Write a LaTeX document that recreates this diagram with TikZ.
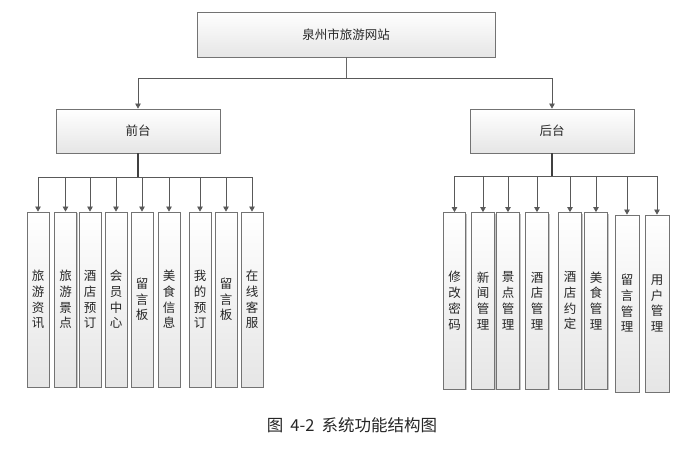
\documentclass[tikz,border=0pt]{standalone}
\usepackage{fontspec}
\newfontfamily\cjk{Noto Sans CJK SC}
\usetikzlibrary{shadows,arrows.meta}
\begin{document}
\begin{tikzpicture}[x=1pt,y=-1pt,
  box/.style={draw=black!55, line width=0.8pt, top color=white, bottom color=black!10,
    drop shadow={shadow xshift=1.3pt,shadow yshift=-1.3pt,fill=black!45,opacity=0.5},
    text=black!85, inner sep=0pt},
  bigbox/.style={box, font=\cjk\fontsize{12.5}{14}\selectfont},
  colbox/.style={box, font=\cjk\fontsize{12.5}{15.7}\selectfont, align=center},
  link/.style={draw=black!60, line width=0.8pt},
  stub/.style={draw=black!75, line width=1.6pt},
  arr/.style={link, -{Triangle[length=5pt,width=5.5pt]}, color=black!65}
]
\fill[white] (0,0) rectangle (697,462);
\useasboundingbox (0,0) rectangle (697,462);

% top level
\node[bigbox, minimum width=298pt, minimum height=45pt] (top) at (346,34.5) {泉州市旅游网站};
\node[bigbox, minimum width=164pt, minimum height=44pt] (front) at (138,131) {前台};
\node[bigbox, minimum width=164pt, minimum height=44pt] (back) at (552,131) {后台};

\coordinate (tb) at (346,78);
\draw[link] (top.south) -- (tb);
\draw[arr] (tb) -| (front.north);
\draw[arr] (tb) -| (back.north);

% front children
\foreach \n/\x/\t in {f1/38/{旅\\游\\资\\讯}, f2/65.5/{旅\\游\\景\\点}, f3/90/{酒\\店\\预\\订},
  f4/116/{会\\员\\中\\心}, f5/142/{留\\言\\板}, f6/169/{美\\食\\信\\息},
  f7/200/{我\\的\\预\\订}, f8/226/{留\\言\\板}, f9/252/{在\\线\\客\\服}}{
  \node[colbox, minimum width=22pt, minimum height=175pt] (\n) at (\x,299.5) {\t};
}
\coordinate (fb) at (138,177);
\draw[stub] (front.south) -- (fb);
\foreach \n in {f1,f2,f3,f4,f5,f6,f7,f8,f9}{
  \draw[arr] (fb) -| (\n.north);
}

% back children
\foreach \n/\x/\t in {b1/454.5/{修\\改\\密\\码}, b2/483/{新\\闻\\管\\理}, b3/508/{景\\点\\管\\理},
  b4/537/{酒\\店\\管\\理}, b5/570/{酒\\店\\约\\定}, b6/596/{美\\食\\管\\理}}{
  \node[colbox, minimum width=22.5pt, minimum height=176.5pt] (\n) at (\x,300.75) {\t};
}
\foreach \n/\x/\t in {b7/627/{留\\言\\管\\理}, b8/657/{用\\户\\管\\理}}{
  \node[colbox, minimum width=24pt, minimum height=177pt] (\n) at (\x,303.5) {\t};
}
\coordinate (bb) at (552,176);
\draw[stub] (back.south) -- (bb);
\foreach \n in {b1,b2,b3,b4,b5,b6,b7,b8}{
  \draw[arr] (bb) -| (\n.north);
}

% caption
\node[font=\cjk\fontsize{16.5}{18}\selectfont, text=black!85] (cap) at (352,425) {图\hspace{7pt}4-2\hspace{7pt}系统功能结构图};
\end{tikzpicture}
\end{document}
